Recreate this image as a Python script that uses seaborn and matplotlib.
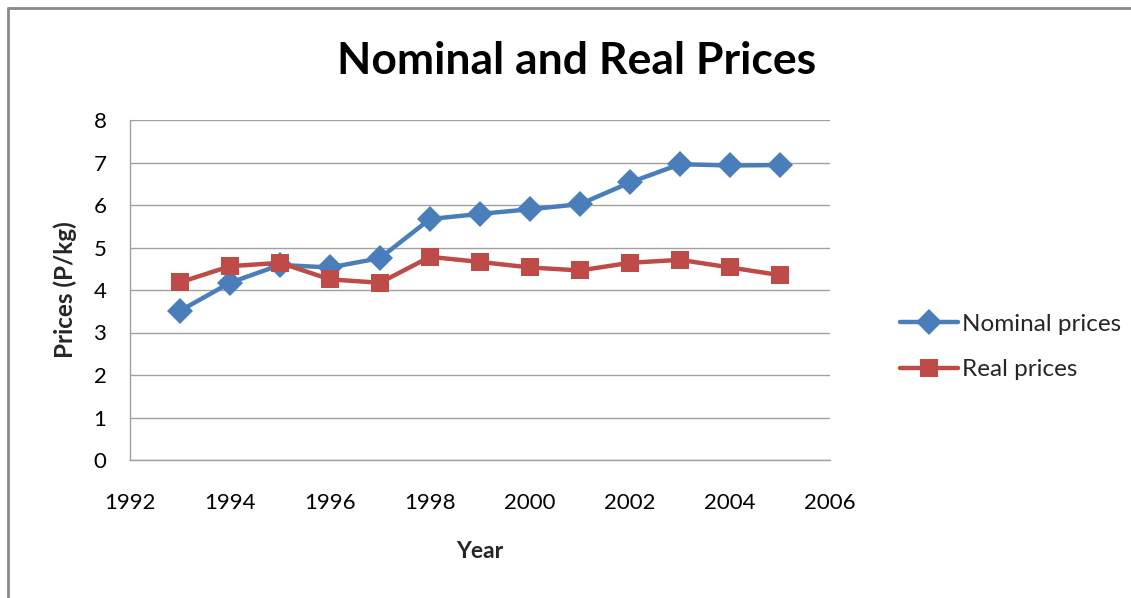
import matplotlib
matplotlib.use("Agg")
import matplotlib.pyplot as plt
import pandas as pd
import seaborn as sns

years = [1993, 1994, 1995, 1996, 1997, 1998, 1999, 2000, 2001, 2002, 2003, 2004, 2005]
nominal_prices = [3.51, 4.17, 4.59, 4.53, 4.75, 5.67, 5.79, 5.90, 6.02, 6.53, 6.96, 6.93, 6.94]
real_prices = [4.18, 4.56, 4.64, 4.25, 4.17, 4.78, 4.66, 4.53, 4.46, 4.64, 4.71, 4.53, 4.35]

df = pd.DataFrame({"Year": years, "Nominal prices": nominal_prices, "Real prices": real_prices})
long_df = df.melt(id_vars="Year", var_name="Series", value_name="Price")

sns.set_style("white")
plt.rcParams["font.family"] = ["Lato", "DejaVu Sans"]

fig = plt.figure(figsize=(11.31, 5.98), dpi=100)
ax = fig.add_axes([130 / 1131, 138 / 598, 700 / 1131, 340 / 598])

palette = {"Nominal prices": "#4a7ebb", "Real prices": "#be4b48"}
sns.lineplot(data=long_df, x="Year", y="Price", hue="Series", style="Series",
             markers={"Nominal prices": "D", "Real prices": "s"}, dashes=False,
             palette=palette, linewidth=3.2, markersize=13, markeredgewidth=0,
             ax=ax)

ax.set_xlim(1992, 2006)
ax.set_ylim(0, 8)
ax.set_xticks(range(1992, 2007, 2))
ax.set_yticks(range(0, 9))
ax.yaxis.grid(True, color="#a0a0a0", linewidth=1)
ax.xaxis.grid(False)
for side in ["top", "right"]:
    ax.spines[side].set_visible(False)
for side in ["left", "bottom"]:
    ax.spines[side].set_color("#a0a0a0")
    ax.spines[side].set_linewidth(1)
ax.tick_params(axis="both", direction="out", length=6, width=1, color="#a0a0a0",
               labelsize=16, labelcolor="#000000")
ax.tick_params(axis="x", pad=18)
ax.tick_params(axis="y", pad=11)

ax.set_xlabel("Year", fontsize=16.5, fontweight="bold", labelpad=20)
ax.set_ylabel("Prices (P/kg)", fontsize=17.5, fontweight="bold", labelpad=12)

fig.text(577 / 1131, 1 - 61 / 598, "Nominal and Real Prices", ha="center", va="center",
         fontsize=32, fontweight="bold", color="#000000")

handles, labels = ax.get_legend_handles_labels()
ax.legend(handles, labels, loc="center left", bbox_to_anchor=(878 / 1131, 1 - 347 / 598),
          bbox_transform=fig.transFigure, frameon=False, fontsize=17.5,
          handlelength=2.4, handletextpad=0.15, labelspacing=1.0)

# outer frame (top and left edges only visible)
fig.add_artist(plt.Line2D([8 / 1131, 1], [1 - 8 / 598, 1 - 8 / 598], transform=fig.transFigure,
                          color="#8a8a8a", linewidth=2))
fig.add_artist(plt.Line2D([8 / 1131, 8 / 1131], [0, 1 - 8 / 598], transform=fig.transFigure,
                          color="#8a8a8a", linewidth=2))

fig.savefig("out.png", dpi=100, facecolor="white")
